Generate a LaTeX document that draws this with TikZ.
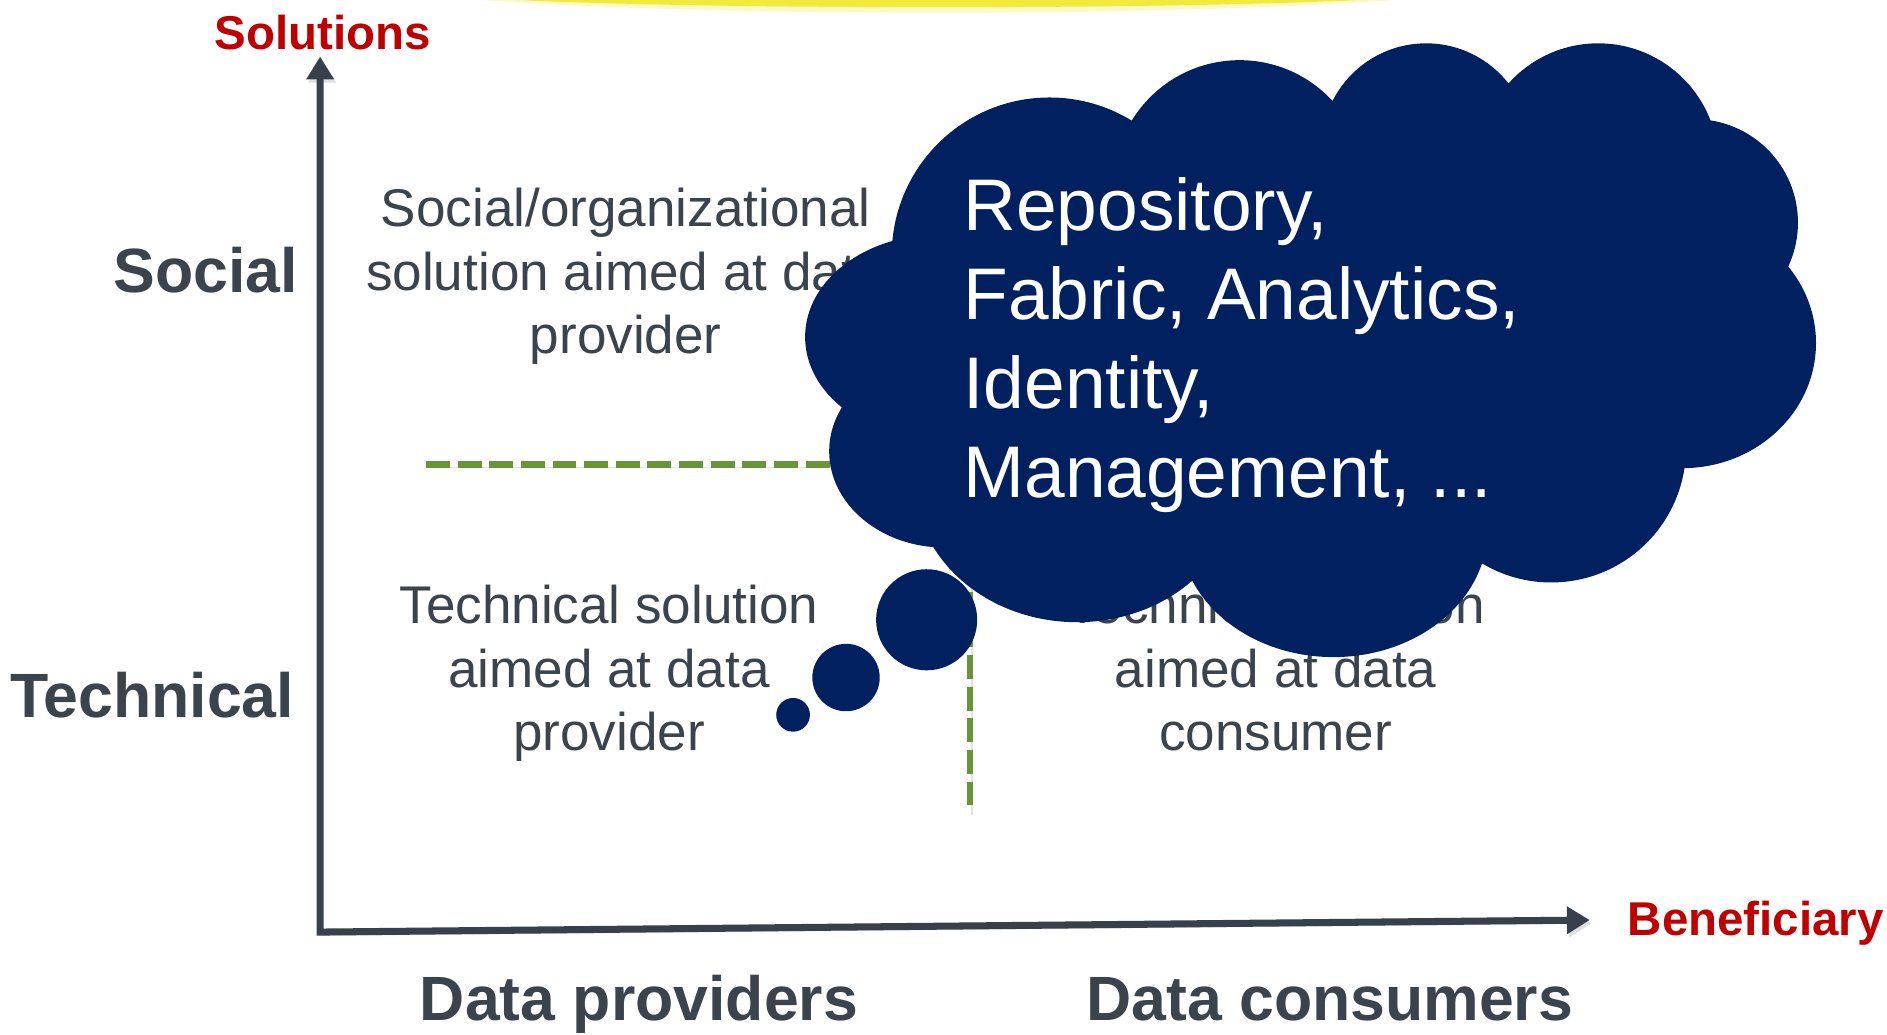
\documentclass[tikz,border=0pt]{standalone}
\usepackage{fontspec}
\setmainfont{Liberation Sans}
\usetikzlibrary{positioning,arrows.meta}

\definecolor{navy}{RGB}{0,32,96}
\definecolor{axisgray}{RGB}{56,65,75}
\definecolor{textgray}{RGB}{59,67,77}
\definecolor{darkred}{RGB}{192,0,0}
\definecolor{olive}{RGB}{106,148,58}
\definecolor{glow}{RGB}{242,234,58}

\begin{document}
\begin{tikzpicture}[%
x=0.120344mm, y=-0.120344mm,
every node/.style={inner sep=0pt},
>={Triangle[length=6.5pt,width=7.5pt]},
axis/.style={draw=axisgray, line width=2pt},
drop/.style={preaction={draw=black!12, transform canvas={xshift=.6pt, yshift=-.9pt}}},
grid line/.style={draw=olive, line width=1.75pt, dash pattern=on 6.8pt off 2.2pt},
quad/.style={text=textgray, align=center, font=\fontsize{15.1pt}{18.1pt}\selectfont},
side/.style={text=textgray, font=\fontsize{17.8pt}{20pt}\selectfont\bfseries},
title/.style={text=darkred, font=\fontsize{13.5pt}{16pt}\selectfont\bfseries},
bubble/.style={circle, fill=navy}
]

\useasboundingbox (0,0) rectangle (1568,860);

% glow at the top edge
\fill[glow!30] (400,0) .. controls (600,14) and (960,14) .. (1160,0) -- cycle;
\fill[glow] (430,0) .. controls (600,8) and (960,8) .. (1130,0) -- cycle;

\coordinate (origin) at (266,774.5);
\coordinate (ytip) at (266,47);
\coordinate (xtip) at (1321,764.5);
\coordinate (hl) at (354,386);
\coordinate (hr) at (1300,386);
\coordinate (vt) at (806,150);
\coordinate (vb) at (806,675);

\draw[grid line, drop] (hl) -- (hr);
\draw[grid line, drop] (vt) -- (vb);
\draw[axis, drop, <->] (ytip) -- (origin) -- (xtip);

\node[title, anchor=base] (solutions) at (268,41) {Solutions};
\node[title, anchor=base west] (beneficiary) at (1352,777) {Beneficiary};

\node[side, anchor=base east] (social) at (248,243) {Social};
\node[side, anchor=base east] (technical) at (245,596) {Technical};
\node[side, anchor=base] (providers) at (531,848) {Data providers};
\node[side, anchor=base] (consumers) at (1105,848) {Data consumers};

% base of a node of several lines = its last line
\node[quad, anchor=base] (socprov) at (520,294) {Social/organizational\\solution aimed at data\\provider};
\node[quad, anchor=base] (techprov) at (506,624) {Technical solution\\aimed at data\\provider};
\node[quad, anchor=base] (techcons) at (1060,624) {Technical solution\\aimed at data\\consumer};

% the thought cloud
\fill[navy] (1100,300) ellipse [x radius=320, y radius=180]
  (872,212) circle [radius=131]
  (1030,155) circle [radius=105]
  (1185,123) circle [radius=87]
  (1328,136) circle [radius=100]
  (1408,185) circle [radius=86]
  (1398,285) ellipse [x radius=111, y radius=104]
  (1289,372) circle [radius=112]
  (1108,440) ellipse [x radius=128, y radius=106]
  (895,400) ellipse [x radius=135, y radius=117]
  (785,375) ellipse [x radius=96, y radius=80]
  (780,280) ellipse [x radius=111, y radius=85];

\node[bubble, minimum size=84*0.120344mm] (big) at (770,515) {};
\node[bubble, minimum size=56*0.120344mm] (mid) at (703,563) {};
\node[bubble, minimum size=28*0.120344mm] (small) at (659,594) {};

\node[anchor=base west, text=white, align=left,
  font=\fontsize{20.8pt}{25.3pt}\selectfont] (ideas) at (800,413)
  {Repository,\\Fabric, Analytics,\\Identity,\\Management, ...};

\end{tikzpicture}
\end{document}
